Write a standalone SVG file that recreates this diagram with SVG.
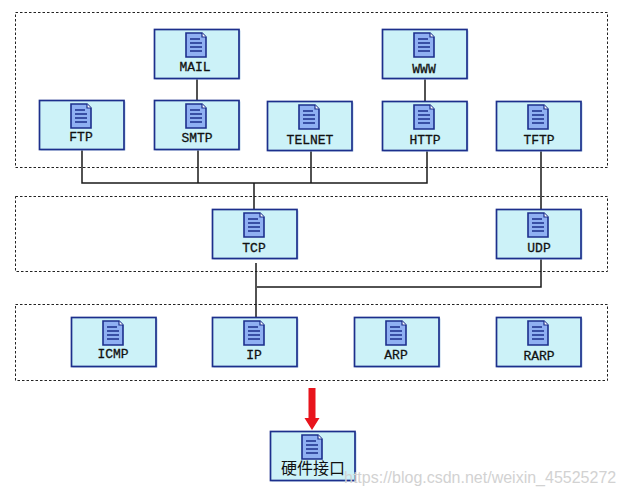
<svg xmlns="http://www.w3.org/2000/svg" width="625" height="495" viewBox="0 0 625 495">
<style>
.group{fill:none;stroke:#222;stroke-width:1;stroke-dasharray:2.500 2}
.box{fill:#ccf2f8;stroke:#1c2f8c;stroke-width:1.700}
.shadow{fill:#b9d4ea}
.label{font-family:"Liberation Mono","DejaVu Sans Mono",monospace;font-size:13px;text-anchor:middle;fill:#111;stroke:#111;stroke-width:.3}
.cn{font-family:"Noto Sans CJK SC",sans-serif;font-size:16px;text-anchor:middle;fill:#111}
.conn{fill:none;stroke:#1a1a1a;stroke-width:1.500}
.mark{font-family:"Liberation Sans",sans-serif;font-size:16px;fill:#d2d2d2}
</style>
<defs>
<g id="doc">
<path d="M-10-12H6L10-8V12H-10Z" fill="#8fb0f2" stroke="#1c2f8c" stroke-width="1.600"/>
<path d="M6-12V-8H10" fill="#fff" stroke="#1c2f8c" stroke-width="1.200"/>
<path d="M-6-6H4M-6-2H6M-6 2H6M-6 6H6" stroke="#1c2f8c" stroke-width="1.300" fill="none"/>
</g>
<g id="card">
<rect class="shadow" x="1.500" y="1.500" width="85" height="49"/>
<rect class="box" x=".5" y=".5" width="84.500" height="49"/>
<use href="#doc" x="42" y="16"/>
</g>
</defs>
<rect width="625" height="495" fill="#fff"/>
<rect class="group" x="15.500" y="12.500" width="592" height="155"/>
<rect class="group" x="15.500" y="196.500" width="592" height="75"/>
<rect class="group" x="15.500" y="304.500" width="592" height="76"/>
<g id="connectors">
<path class="conn" d="M197 78V100M425 78V101M82 149V183H427V151M198 149V183M311 151V183M254 183V209M541 151V209M541 258V287H257M256 263V317"/>
<path d="M308.500 388H315.500V418H319.500L312 430L304.500 418H308.500Z" fill="#e8141c"/>
</g>
<g id="mail"><use href="#card" x="154" y="29"/><text class="label" x="195" y="71">MAIL</text></g>
<g id="www"><use href="#card" x="382" y="29"/><text class="label" x="424" y="73">WWW</text></g>
<g id="ftp"><use href="#card" x="39" y="100"/><text class="label" x="81" y="141">FTP</text></g>
<g id="smtp"><use href="#card" x="154" y="100"/><text class="label" x="197" y="142">SMTP</text></g>
<g id="telnet"><use href="#card" x="267" y="101"/><text class="label" x="310" y="144">TELNET</text></g>
<g id="http"><use href="#card" x="382" y="101"/><text class="label" x="425" y="144">HTTP</text></g>
<g id="tftp"><use href="#card" x="496" y="101"/><text class="label" x="539" y="144">TFTP</text></g>
<g id="tcp"><use href="#card" x="212" y="209"/><text class="label" x="254" y="252">TCP</text></g>
<g id="udp"><use href="#card" x="496" y="209"/><text class="label" x="539" y="252">UDP</text></g>
<g id="icmp"><use href="#card" x="71" y="317"/><text class="label" x="113" y="358">ICMP</text></g>
<g id="ip"><use href="#card" x="212" y="317"/><text class="label" x="254" y="359">IP</text></g>
<g id="arp"><use href="#card" x="354" y="317"/><text class="label" x="396" y="359">ARP</text></g>
<g id="rarp"><use href="#card" x="496" y="317"/><text class="label" x="539" y="360">RARP</text></g>
<g id="hardware"><use href="#card" x="270" y="431"/><text class="cn" x="313" y="474">硬件接口</text></g>
<text class="mark" x="344" y="483">https://blog.csdn.net/weixin_45525272</text>
</svg>
